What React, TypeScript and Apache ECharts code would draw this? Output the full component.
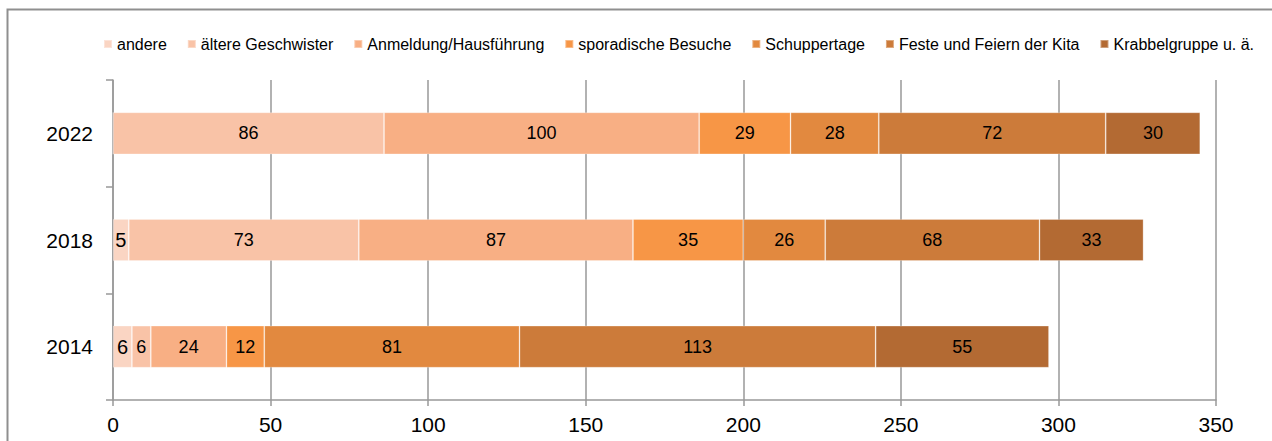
import React, { useEffect, useRef } from "react";
import * as echarts from "echarts";

const categories = ["2014", "2018", "2022"];
const seriesNames = [
  "andere",
  "ältere Geschwister",
  "Anmeldung/Hausführung",
  "sporadische Besuche",
  "Schuppertage",
  "Feste und Feiern der Kita",
  "Krabbelgruppe u. ä.",
];
const andere = [6, 5, 0];
const aeltereGeschwister = [6, 73, 86];
const anmeldung = [24, 87, 100];
const sporadisch = [12, 35, 29];
const schuppertage = [81, 26, 28];
const feste = [113, 68, 72];
const krabbel = [55, 33, 30];
const seriesValues = [andere, aeltereGeschwister, anmeldung, sporadisch, schuppertage, feste, krabbel];
const colors = ["#FAD5C3", "#F9C3A7", "#F8AF84", "#F79646", "#E2893F", "#CC7B3A", "#B36A33"];
const xTicks = { min: 0, max: 350, interval: 50 };

export default function App() {
  const ref = useRef<HTMLDivElement>(null);
  useEffect(() => {
    if (!ref.current) return;
    const chart = echarts.init(ref.current, undefined, { renderer: "svg" });
    const font = "'Liberation Sans', Arial, sans-serif";
    chart.setOption({
      animation: false,
      textStyle: { fontFamily: font },
      graphic: [
        {
          type: "rect",
          shape: { x: 7.5, y: 9.5, width: 1400, height: 600 },
          style: { fill: "none", stroke: "#8f8f8f", lineWidth: 2 },
          silent: true,
        },
      ],
      legend: {
        left: 103,
        top: 36,
        width: 1169,
        padding: 0,
        icon: "rect",
        itemWidth: 8,
        itemHeight: 8,
        itemGap: 20,
        textStyle: { fontSize: 16, color: "#000", fontFamily: font },
        data: seriesNames,
      },
      grid: { left: 113, right: 56, top: 80, bottom: 41, containLabel: false },
      xAxis: {
        type: "value",
        min: xTicks.min,
        max: xTicks.max,
        interval: xTicks.interval,
        axisLine: { show: true, lineStyle: { color: "#999", width: 1.5 } },
        axisTick: { show: true, length: 6, lineStyle: { color: "#999", width: 1.5 } },
        splitLine: { show: true, lineStyle: { color: "#999", width: 1.5 } },
        axisLabel: { fontSize: 21, color: "#000", margin: 14, fontFamily: font },
      },
      yAxis: {
        type: "category",
        data: categories,
        axisLine: { show: true, lineStyle: { color: "#999", width: 1.5 } },
        axisTick: { show: true, length: 7, lineStyle: { color: "#999", width: 1.5 } },
        axisLabel: { fontSize: 21, color: "#000", margin: 20, fontFamily: font },
      },
      series: seriesNames.map((name, i) => ({
        name,
        type: "bar",
        stack: "total",
        barWidth: 42,
        data: seriesValues[i],
        itemStyle: { color: colors[i], borderColor: "rgba(255,255,255,0.35)", borderWidth: 0.8 },
        label: {
          show: true,
          position: "inside",
          color: "#000",
          fontSize: i === 0 ? 20 : 18,
          fontFamily: font,
          formatter: (p: any) => (p.value ? String(p.value) : ""),
        },
      })),
    });
    return () => chart.dispose();
  }, []);
  return (
    <div
      ref={ref}
      style={{ position: "absolute", left: 0, top: 0, width: 1272, height: 441, background: "#fff" }}
    />
  );
}
